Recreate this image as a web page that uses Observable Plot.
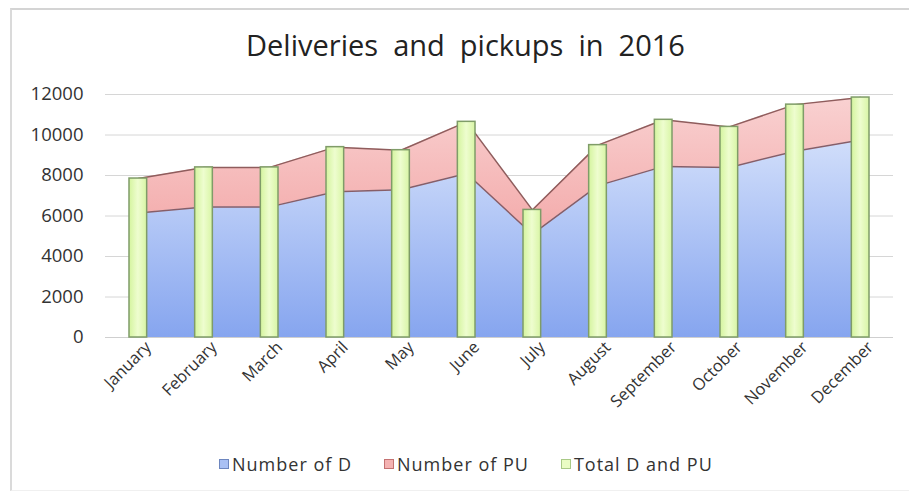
<!DOCTYPE html>
<html><head><meta charset="utf-8">
<script src="https://cdn.jsdelivr.net/npm/d3@7"></script>
<script src="https://cdn.jsdelivr.net/npm/@observablehq/plot@0.6"></script>
<style>
body{margin:0;background:#fff;font-family:"Open Sans",sans-serif;}
#wrap{position:relative;width:909px;height:497px;overflow:hidden;background:#fff;}
#frame{position:absolute;left:10px;top:8px;width:905px;height:480px;border-top:2px solid #d4d4d4;border-left:2px solid #dadada;border-bottom:1px solid #f0f0f0;pointer-events:none;}
#title{height:60px;box-sizing:border-box;padding-top:30px;padding-left:22px;line-height:30px;text-align:center;font-size:29px;color:#222;white-space:pre;}
#chart{height:380px;}
#legend{position:absolute;top:452px;left:219px;display:flex;align-items:center;font-size:18px;letter-spacing:1px;color:#333;}
.item{display:flex;align-items:center;margin-right:32px;}
.sw{width:8px;height:8px;margin-right:3px;border:1px solid;}
</style>
</head><body>
<div id="wrap">
<div id="frame"></div>
<div id="title">Deliveries  and  pickups  in  2016</div>
<div id="chart"></div>
<div id="legend"></div>
</div>
<script>
const months = ["January","February","March","April","May","June","July","August","September","October","November","December"];
const numberD = [6150, 6450, 6450, 7200, 7300, 8100, 5100, 7500, 8450, 8400, 9200, 9750];
const numberPU = [1700, 1950, 1950, 2200, 1950, 2550, 1200, 2000, 2300, 2000, 2300, 2100];
const totalDPU = [7850, 8400, 8400, 9400, 9250, 10650, 6300, 9500, 10750, 10400, 11500, 11850];
const yTicks = [0, 2000, 4000, 6000, 8000, 10000, 12000];
const seriesNames = ["Number of D", "Number of PU", "Total D and PU"];

const table = months.map((m, i) => ({i, month: m, d: numberD[i], pu: numberPU[i], total: totalDPU[i]}));

const plot = Plot.plot({
  width: 909,
  height: 380,
  marginTop: 34,
  marginBottom: 103,
  marginLeft: 105,
  marginRight: 16,
  style: {fontFamily: "Open Sans, sans-serif", background: "transparent"},
  x: {type: "linear", domain: [-0.5, 11.5]},
  y: {domain: [0, 12000]},
  marks: [
    Plot.gridY(yTicks, {stroke: "#d6d6d6", strokeOpacity: 1}),
    Plot.areaY(table, {x: "i", y1: 0, y2: "d", fill: "url(#gBlue)"}),
    Plot.areaY(table, {x: "i", y1: "d", y2: d => d.d + d.pu, fill: "url(#gRed)"}),
    Plot.lineY(table, {x: "i", y: d => d.d + d.pu, stroke: "#8f5d5d", strokeWidth: 1.5}),
    Plot.lineY(table, {x: "i", y: "d", stroke: "#875e68", strokeWidth: 1.5}),
    Plot.ruleY([0], {stroke: "#cfcfcf"}),
    Plot.rectY(table, {x1: d => d.i - 0.5, x2: d => d.i + 0.5, y1: 0, y2: "total", insetLeft: 24, insetRight: 24, fill: "url(#gGreen)", stroke: "#7f9c68", strokeWidth: 1.5}),
    Plot.axisY(yTicks, {tickSize: 0, tickPadding: 22, fontSize: 18.5, tickFormat: d => String(d), color: "#333", label: null}),
    Plot.axisX(d3.range(12), {tickFormat: i => months[i], tickRotate: -45, tickSize: 0, tickPadding: 4, fontSize: 16.5, color: "#333", label: null, dx: 10, dy: 3})
  ]
});

const ns = "http://www.w3.org/2000/svg";
const defs = document.createElementNS(ns, "defs");
defs.innerHTML = `
<linearGradient id="gBlue" gradientUnits="userSpaceOnUse" x1="0" y1="34" x2="0" y2="277">
  <stop offset="0" stop-color="#e2ebfd"/><stop offset="1" stop-color="#86a5ef"/>
</linearGradient>
<linearGradient id="gRed" gradientUnits="userSpaceOnUse" x1="0" y1="34" x2="0" y2="277">
  <stop offset="0" stop-color="#f9d2d2"/><stop offset="1" stop-color="#ef8d8d"/>
</linearGradient>
<linearGradient id="gGreen" x1="0" y1="0" x2="1" y2="0">
  <stop offset="0" stop-color="#d4f49e"/><stop offset="0.5" stop-color="#eefdcf"/><stop offset="1" stop-color="#d8f5a5"/>
</linearGradient>`;
plot.insertBefore(defs, plot.firstChild);
document.getElementById("chart").appendChild(plot);

const swatches = [["#a9c0f4", "#6d86bf"], ["#f4b2b2", "#c47272"], ["#eafcc4", "#a9c986"]];
const legend = document.getElementById("legend");
seriesNames.forEach((name, k) => {
  const item = document.createElement("div");
  item.className = "item";
  const sw = document.createElement("span");
  sw.className = "sw";
  sw.style.background = swatches[k][0];
  sw.style.borderColor = swatches[k][1];
  const t = document.createElement("span");
  t.textContent = name;
  item.appendChild(sw); item.appendChild(t);
  legend.appendChild(item);
});
</script>
</body></html>
